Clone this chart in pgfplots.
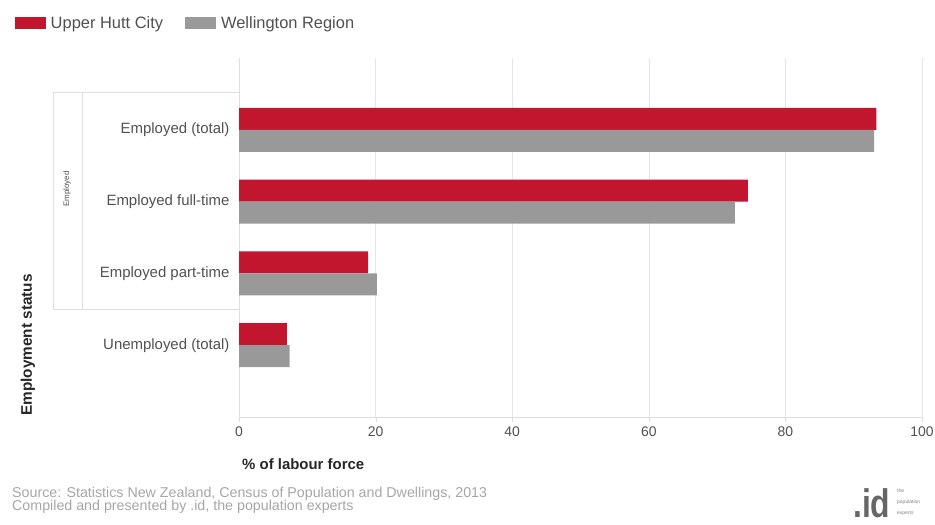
\documentclass[border=0pt]{standalone}
\usepackage{pgfplots}
\pgfplotsset{compat=1.18}
\usepackage{fontspec}
\setmainfont{Liberation Sans}
\definecolor{uhred}{RGB}{194,22,46}
\definecolor{wgray}{RGB}{153,153,153}
\definecolor{gridc}{RGB}{230,230,230}
\definecolor{boxc}{RGB}{222,222,222}
\definecolor{tickc}{RGB}{80,80,80}
\begin{document}
\begin{tikzpicture}[x=1bp,y=1bp]
\path[use as bounding box] (0,0) rectangle (935,525);
\begin{axis}[
  at={(239bp,108bp)}, anchor=south west,
  width=683bp, height=359bp, scale only axis,
  xbar, bar width=22bp,
  xmin=0, xmax=100, ymin=-1, ymax=4,
  y dir=reverse,
  ytick={0,1,2,3},
  yticklabels={Employed (total),Employed full-time,Employed part-time,Unemployed (total)},
  xtick={0,20,40,60,80,100},
  axis x line*=bottom, axis y line*=left,
  axis line style={draw=boxc},
  x axis line style={-}, y axis line style={-},
  xmajorgrids, grid style={gridc},
  major tick length=5bp, tick align=outside,
  xtick style={draw=boxc},
  ytick style={draw=none},
  /pgf/number format/assume math mode=true,
  tick label style={font=\fontsize{14}{16}\selectfont, text=tickc},
  yticklabel style={font=\fontsize{15}{17}\selectfont, xshift=-1bp},
  xticklabel style={yshift=-1bp},
  legend style={at={(-0.333,1.0975)}, anchor=west, draw=none, fill=none,
    font=\fontsize{16.5}{18}\selectfont, text=tickc,
    /tikz/every even column/.append style={column sep=20bp}},
  legend columns=2,
  legend image code/.code={\fill[#1] (0bp,-6bp) rectangle (31bp,6bp);},
  legend cell align=left,
  clip=false,
]
\addplot[fill=uhred, draw=none, bar shift=11bp] coordinates {(93.3,0) (74.5,1) (18.9,2) (7.0,3)};
\addplot[fill=wgray, draw=none, bar shift=-11bp] coordinates {(93.0,0) (72.6,1) (20.2,2) (7.4,3)};
\legend{\hspace{3bp}Upper Hutt City, \hspace{3bp}Wellington Region}
\end{axis}
% group box
\draw[boxc] (53,433) -- (239,433);
\draw[boxc] (53,216) -- (239,216);
\draw[boxc] (53,433) -- (53,216);
\draw[boxc] (82,433) -- (82,216);
\node[rotate=90, font=\fontsize{8}{9}\selectfont, text=tickc] at (67,336) {Employed};
\node[rotate=90, font=\bfseries\fontsize{15.4}{17}\selectfont, text=black!85] at (28,180) {Employment status};
\node[anchor=west, font=\bfseries\fontsize{15}{17}\selectfont, text=black!85, inner sep=0] at (242,61) {\% of labour force};
\node[anchor=base west, font=\fontsize{14.3}{14}\selectfont, text=black!35, inner sep=0] at (12,27) {Source: Statistics New Zealand, Census of Population and Dwellings, 2013};
\node[anchor=base west, font=\fontsize{14.3}{14}\selectfont, text=black!35, inner sep=0] at (12,14) {Compiled and presented by .id, the population experts};
\node[anchor=base west, font=\bfseries\fontsize{40}{40}\selectfont, text=black!60, inner sep=0] at (853,7) {\scalebox{0.8}[1]{.id}};
\node[anchor=base west, font=\fontsize{5}{6}\selectfont, text=black!50, inner sep=0] at (897,32) {the};
\node[anchor=base west, font=\fontsize{5}{6}\selectfont, text=black!50, inner sep=0] at (897,21) {population};
\node[anchor=base west, font=\fontsize{5}{6}\selectfont, text=black!50, inner sep=0] at (897,10) {experts};
\end{tikzpicture}
\end{document}
